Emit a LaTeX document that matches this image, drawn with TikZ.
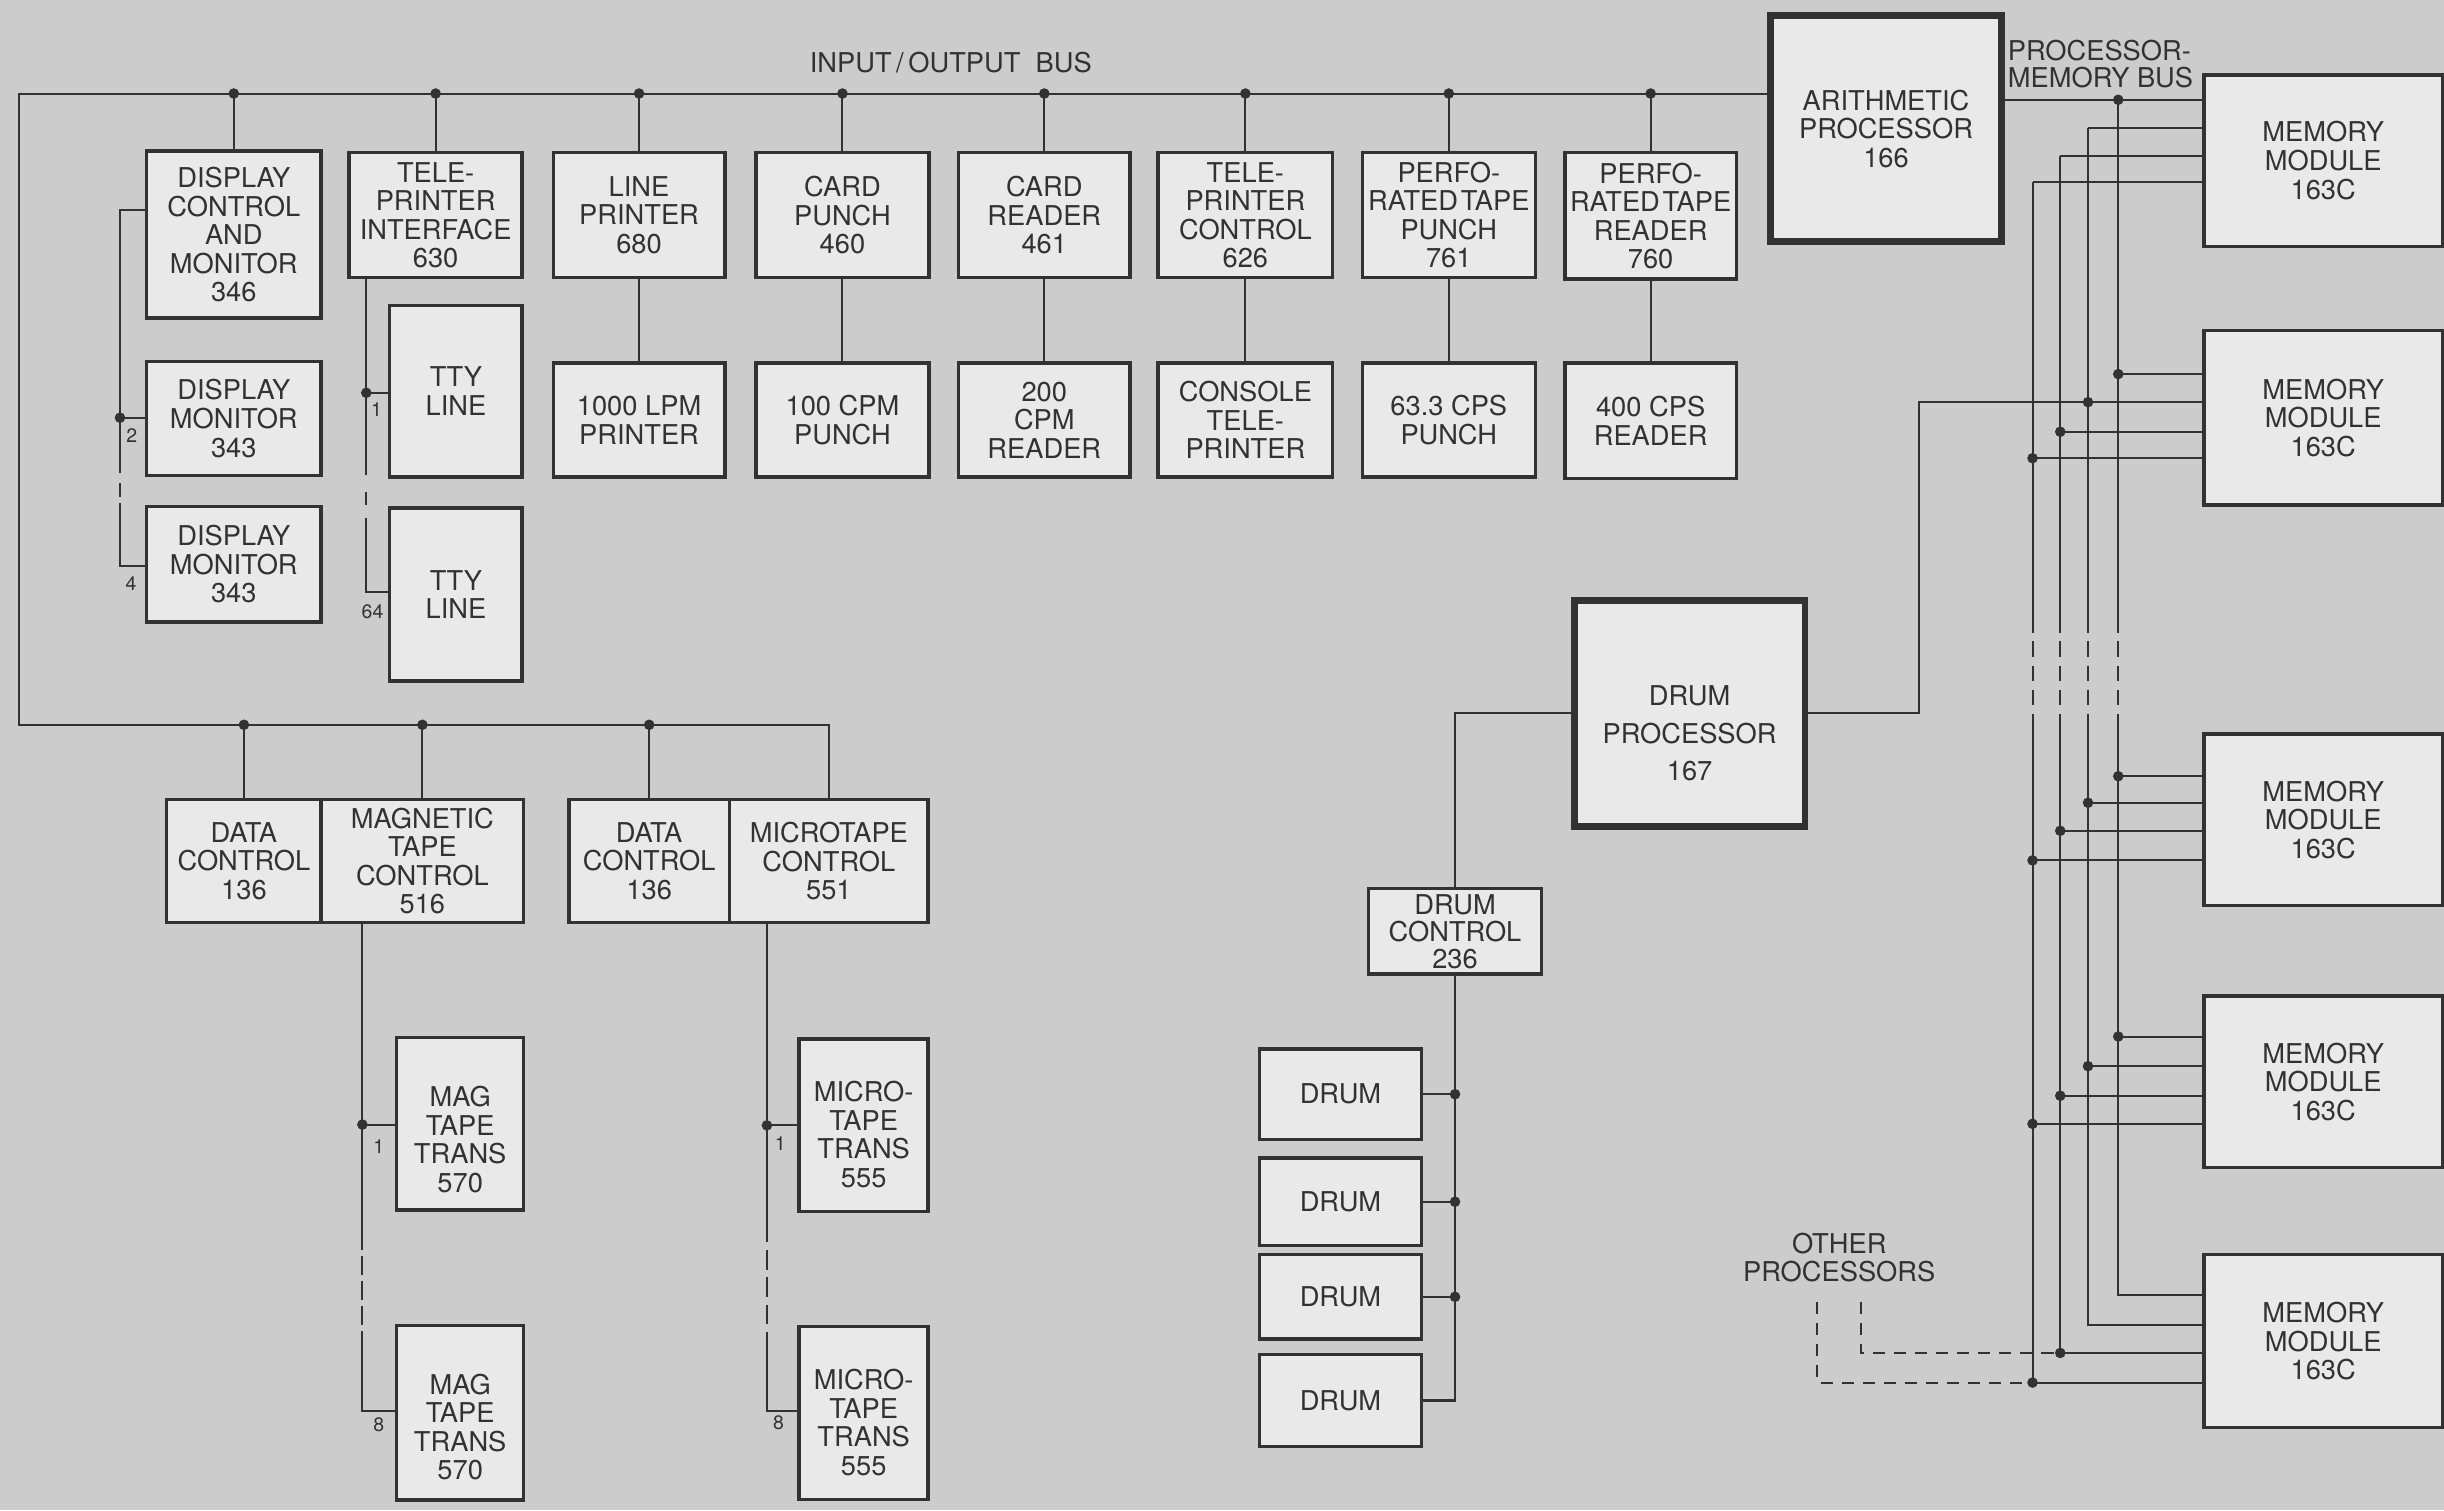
\documentclass[tikz,border=0pt]{standalone}
\usepackage{fontspec}
\setmainfont{TeX Gyre Heros}
\definecolor{bg}{RGB}{204,204,204}
\definecolor{boxfill}{RGB}{233,233,233}
\definecolor{ink}{RGB}{50,50,50}
\tikzset{
  box/.style={draw=ink, fill=boxfill, line width=2.2pt, inner sep=0pt, align=center,
    text=ink, font=\fontsize{17.5}{18.3}\selectfont},
  heavybox/.style={box, line width=4.4pt},
  wire/.style={draw=ink, line width=1.3pt},
  lbl/.style={text=ink, inner sep=0pt, align=center, font=\fontsize{17.5}{18.3}\selectfont},
  num/.style={text=ink, inner sep=0pt, font=\fontsize{12.5}{13}\selectfont},
  membreak/.style={wire, dash pattern=on 10pt off 5.5pt, dash phase=10pt},
  odash/.style={wire, dash pattern=on 8pt off 5.5pt},
}
\newcommand\bx[7][]{\node[box,#1,minimum width={(#5-#3)*1pt},minimum height={(#6-#4)*1pt}] (#2) at ({(#3+#5)/2},{(#4+#6)/2}) {#7};}
\newcommand\jd[1]{\fill[ink] (#1) circle[radius=3.4pt];}
\begin{document}
\begin{tikzpicture}[x=1pt,y=-1pt]
\useasboundingbox (0,0) rectangle (1568,969);
\fill[bg] (0,0) rectangle (1568,969);

% ---------------- boxes: top row ----------------
\bx{dispctl}{94}{97}{206}{204}{DISPLAY\\CONTROL\\AND\\MONITOR\\346}
\bx{dm1}{94}{232}{206}{305}{DISPLAY\\MONITOR\\343}
\bx{dm2}{94}{325}{206}{399}{DISPLAY\\MONITOR\\343}
\bx{ttyif}{224}{98}{335}{178}{TELE-\\PRINTER\\INTERFACE\\630}
\bx{tty1}{250}{196}{335}{306}{TTY\\LINE}
\bx{tty2}{250}{326}{335}{437}{TTY\\LINE}
\bx{lp}{355}{98}{465}{178}{LINE\\PRINTER\\680}
\bx{cp}{485}{98}{596}{178}{CARD\\PUNCH\\460}
\bx{cr}{615}{98}{725}{178}{CARD\\READER\\461}
\bx{tc}{743}{98}{855}{178}{TELE-\\PRINTER\\CONTROL\\626}
\bx{pp}{874}{98}{985}{178}{PERFO-\\RATED\hspace{0.1em}TAPE\\PUNCH\\761}
\bx{pr}{1004}{98}{1114}{179}{PERFO-\\RATED\hspace{0.1em}TAPE\\READER\\760}

\bx{lpm}{355}{233}{465}{306}{1000 LPM\\PRINTER}
\bx{cpm}{485}{233}{596}{306}{100 CPM\\PUNCH}
\bx{crm}{615}{233}{725}{306}{200\\CPM\\READER}
\bx{con}{743}{233}{855}{306}{CONSOLE\\TELE-\\PRINTER}
\bx{cps}{874}{233}{985}{306}{63.3 CPS\\PUNCH}
\bx{rdr}{1004}{233}{1114}{307}{400 CPS\\READER}

% ---------------- lower left group ----------------
\bx{dc1}{107}{513}{206}{592}{DATA\\CONTROL\\136}
\bx{mtc}{206}{513}{336}{592}{MAGNETIC\\TAPE\\CONTROL\\516}
\bx{dc2}{365}{513}{468}{592}{DATA\\CONTROL\\136}
\bx{uc}{468}{513}{595.5}{592}{MICROTAPE\\CONTROL\\551}

\bx{mt1}{254.5}{665.7}{336}{776.4}{}
\node[lbl] (mt1t) at ([yshift=-10pt]mt1.center) {MAG\\TAPE\\TRANS\\570};
\bx{mt2}{254.5}{850.4}{336}{962.4}{}
\node[lbl] (mt2t) at ([yshift=-9pt]mt2.center) {MAG\\TAPE\\TRANS\\570};
\bx{ut1}{512.7}{666.7}{595.5}{777.3}{}
\node[lbl] (ut1t) at ([yshift=-6pt]ut1.center) {MICRO-\\TAPE\\TRANS\\555};
\bx{ut2}{512.7}{851}{595.5}{962}{}
\node[lbl] (ut2t) at ([yshift=-6pt]ut2.center) {MICRO-\\TAPE\\TRANS\\555};

% ---------------- drum group ----------------
\bx[heavybox]{dp}{1010}{385}{1158}{530}{}
\node[lbl, font=\fontsize{17.5}{24}\selectfont] (dpt) at ([yshift=-13pt]dp.center) {DRUM\\PROCESSOR\\167};
\bx[font=\fontsize{17.5}{17.3}\selectfont]{dctl}{878}{570}{989}{625}{DRUM\\CONTROL\\236}
\bx{d1}{808}{673}{912}{731}{DRUM}
\bx{d2}{808}{743}{912}{799}{DRUM}
\bx{d3}{808}{805}{912}{859}{DRUM}
\bx{d4}{808}{869}{912}{928}{DRUM}

% ---------------- processors and memory ----------------
\bx[heavybox]{ap}{1136}{10}{1284}{155}{ARITHMETIC\\PROCESSOR\\166}
\bx{mm1}{1414}{48}{1567}{158}{MEMORY\\MODULE\\163C}
\bx{mm2}{1414}{212}{1567}{324}{MEMORY\\MODULE\\163C}
\bx{mm3}{1414}{471}{1567}{581}{MEMORY\\MODULE\\163C}
\bx{mm4}{1414}{639}{1567}{749}{MEMORY\\MODULE\\163C}
\bx{mm5}{1414}{805}{1567}{916}{MEMORY\\MODULE\\163C}

% ---------------- labels ----------------
\node[lbl] (iobus) at (610,40) {INPUT\,/\,OUTPUT\ \ BUS};
\node[lbl, anchor=west, align=left, font=\fontsize{17.5}{17.5}\selectfont] (pmbus) at (1288,41) {PROCESSOR-\\MEMORY BUS};
\node[lbl, font=\fontsize{17.5}{18}\selectfont] (op) at (1180,807) {OTHER\\PROCESSORS};
\node[num] (n2) at (84.5,279.5) {2};
\node[num] (n4) at (84,374.5) {4};
\node[num] (n1a) at (241.5,263) {1};
\node[num] (n64) at (239,392.5) {64};
\node[num] (n1b) at (243,735.5) {1};
\node[num] (n8a) at (243,914) {8};
\node[num] (n1c) at (500.6,734) {1};
\node[num] (n8b) at (499.5,913) {8};

% ---------------- I/O bus ----------------
\coordinate (ioL) at (12,60);
\coordinate (ioB) at (12,465);
\draw[wire] (ap.west |- ioL) -- (ioL) -- (ioB) -- (ioB -| uc.north) -- (uc.north);
\foreach \b in {dispctl,ttyif,lp,cp,cr,tc,pp,pr}{
  \draw[wire] (\b.north) -- (\b.north |- ioL);
  \jd{\b.north |- ioL}
}
\foreach \a/\b in {lp/lpm,cp/cpm,cr/crm,tc/con,pp/cps,pr/rdr}{
  \draw[wire] (\a.south) -- (\b.north);
}
\foreach \b in {dc1,mtc,dc2}{
  \draw[wire] (\b.north) -- (\b.north |- ioB);
  \jd{\b.north |- ioB}
}

% display monitor chain
\coordinate (dbT) at (77,135);
\coordinate (dbJ) at (77,268);
\coordinate (dbG1) at (77,303.5);
\coordinate (dbG2) at (77,323);
\coordinate (dbB) at (77,363);
\draw[wire] (dispctl.west |- dbT) -- (dbT) -- (dbG1);
\draw[wire, dash pattern=on 0pt off 6.5pt on 9pt off 10pt] (dbG1) -- (dbG2);
\draw[wire] (dbG2) -- (dbB) -- (dm2.west |- dbB);
\draw[wire] (dbJ) -- (dm1.west |- dbJ);
\jd{dbJ}

% TTY line chain
\coordinate (tyJ) at (235,252);
\coordinate (tyG1) at (235,305);
\coordinate (tyG2) at (235,332.5);
\coordinate (tyB) at (235,380);
\draw[wire] (ttyif.south -| tyJ) -- (tyJ) -- (tyG1);
\draw[wire, dash pattern=on 0pt off 10.6pt on 8.4pt off 20pt] (tyG1) -- (tyG2);
\draw[wire] (tyG2) -- (tyB) -- (tty2.west |- tyB);
\draw[wire] (tyJ) -- (tty1.west |- tyJ);
\jd{tyJ}

% mag tape chain
\coordinate (mgJ) at (232.5,721.5);
\coordinate (mgG1) at (232.5,802);
\coordinate (mgG2) at (232.5,854);
\coordinate (mgB) at (232.5,905);
\draw[wire] (mtc.south -| mgJ) -- (mgJ) -- (mgG1);
\draw[wire, dash pattern=on 12pt off 4pt, dash phase=12pt] (mgG1) -- (mgG2);
\draw[wire] (mgG2) -- (mgB) -- (mt2.west |- mgB);
\draw[wire] (mgJ) -- (mt1.west |- mgJ);
\jd{mgJ}

% microtape chain
\coordinate (mcJ) at (492,722);
\coordinate (mcG1) at (492,797);
\coordinate (mcG2) at (492,854.5);
\coordinate (mcB) at (492,905);
\draw[wire] (uc.south -| mcJ) -- (mcJ) -- (mcG1);
\draw[wire, dash pattern=on 12.5pt off 5pt, dash phase=12.5pt] (mcG1) -- (mcG2);
\draw[wire] (mcG2) -- (mcB) -- (ut2.west |- mcB);
\draw[wire] (mcJ) -- (ut1.west |- mcJ);
\jd{mcJ}

% drum chain
\draw[wire] (dp.west) -- (dp.west -| dctl.north) -- (dctl.north);
\draw[wire] (dctl.south) -- (dctl.south |- d4.east) -- (d4.east);
\foreach \d in {d1,d2,d3}{
  \draw[wire] (\d.east) -- (\d.east -| dctl.south);
  \jd{\d.east -| dctl.south}
}

% ---------------- processor-memory buses ----------------
\coordinate (gapT) at (0,406);
\coordinate (gapB) at (0,458);
% line 1
\coordinate (v1a) at (1359,64);
\coordinate (v1b) at (1359,240);
\coordinate (v1c) at (1359,498);
\coordinate (v1d) at (1359,665);
\coordinate (v1e) at (1359,831);
% line 2
\coordinate (v2a) at (1339.6,82);
\coordinate (v2b) at (1339.6,258);
\coordinate (v2c) at (1339.6,515);
\coordinate (v2d) at (1339.6,684);
\coordinate (v2e) at (1339.6,850);
% line 3
\coordinate (v3a) at (1321.8,100);
\coordinate (v3b) at (1321.8,277);
\coordinate (v3c) at (1321.8,533);
\coordinate (v3d) at (1321.8,703);
\coordinate (v3e) at (1321.8,868);
% line 4
\coordinate (v4a) at (1304,117);
\coordinate (v4b) at (1304,294);
\coordinate (v4c) at (1304,552);
\coordinate (v4d) at (1304,721);
\coordinate (v4e) at (1304,887);

\draw[wire] (ap.east |- v1a) -- (mm1.west |- v1a);
\foreach \v in {v2,v3,v4}{
  \draw[wire] (mm1.west |- \v a) -- (\v a);
}
\foreach \v in {v1,v2,v3,v4}{
  \draw[wire] (\v a) -- (\v a |- gapT);
  \draw[membreak] (\v a |- gapT) -- (\v a |- gapB);
  \draw[wire] (\v a |- gapB) -- (\v e) -- (mm5.west |- \v e);
  \draw[wire] (\v b) -- (mm2.west |- \v b);
  \draw[wire] (\v c) -- (mm3.west |- \v c);
  \draw[wire] (\v d) -- (mm4.west |- \v d);
  \jd{\v b}
  \jd{\v c}
  \jd{\v d}
}
\jd{v1a}
\jd{v3e}
\jd{v4e}

% drum processor to memory bus
\coordinate (dk) at (1231,258);
\draw[wire] (dp.east) -- (dp.east -| dk) -- (dk) -- (v2b);

% other processors
\coordinate (o1) at (1166,835);
\coordinate (o2) at (1194,835);
\draw[odash] (o1) -- (o1 |- v4e) -- (v4e);
\draw[odash] (o2) -- (o2 |- v3e) -- (v3e);
\end{tikzpicture}
\end{document}
